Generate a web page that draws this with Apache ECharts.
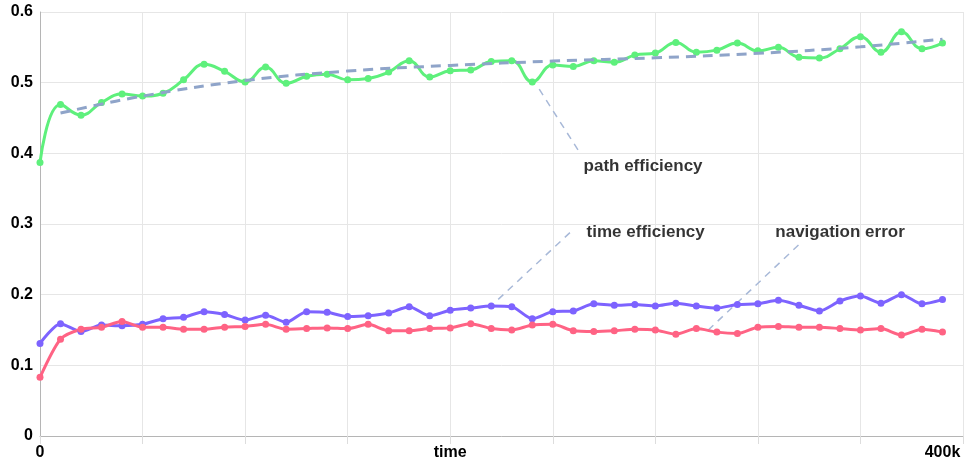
<!DOCTYPE html>
<html>
<head>
<meta charset="utf-8">
<script src="https://cdn.jsdelivr.net/npm/echarts@6/dist/echarts.min.js"></script>
<style>html,body{margin:0;padding:0;background:#fff}#c{width:966px;height:464px}</style>
</head>
<body>
<div id="c"></div>
<script>
// x categories (46 slots, labels only at a few)
const categories = Array.from({length: 46}, () => '');
categories[0] = '0';
categories[20] = 'time';
categories[44] = '400k';

const yTicks = [0, 0.1, 0.2, 0.3, 0.4, 0.5, 0.6];

const pathEfficiency = [0.387,0.469,0.454,0.472,0.484,0.481,0.485,0.504,0.526,0.516,
  0.501,0.522,0.499,0.509,0.512,0.504,0.506,0.515,0.531,0.508,
  0.517,0.518,0.530,0.531,0.501,0.525,0.523,0.531,0.529,0.539,
  0.542,0.557,0.543,0.546,0.556,0.545,0.550,0.536,0.535,0.548,
  0.565,0.543,0.572,0.548,0.556];

const timeEfficiency = [0.131,0.159,0.148,0.157,0.156,0.158,0.166,0.168,0.176,0.172,
  0.164,0.171,0.161,0.176,0.175,0.169,0.170,0.174,0.183,0.170,
  0.178,0.181,0.184,0.183,0.166,0.176,0.177,0.187,0.185,0.186,
  0.184,0.188,0.184,0.181,0.186,0.187,0.192,0.185,0.177,0.191,
  0.198,0.188,0.200,0.187,0.193];

const navigationError = [0.083,0.137,0.151,0.154,0.162,0.154,0.154,0.151,0.151,0.154,
  0.155,0.158,0.151,0.152,0.153,0.152,0.158,0.149,0.149,0.152,
  0.153,0.159,0.152,0.150,0.157,0.158,0.149,0.148,0.149,0.151,
  0.150,0.144,0.152,0.147,0.145,0.154,0.155,0.154,0.154,0.152,
  0.150,0.152,0.143,0.151,0.147];

// trend line of path efficiency (read at a few positions)
const trendIdx = [1, 5, 10, 15, 20, 25, 30, 35, 40, 44];
const trendVal = [0.457, 0.481, 0.503, 0.5165, 0.5244, 0.5305, 0.5352, 0.5415, 0.5507, 0.5616];

// annotations: label text, leader line start/end, label anchor (x in category units, y in data units)
const annoText = ['path efficiency', 'time efficiency', 'navigation error'];
const annoFrom = [[24.34, 0.4908], [22.34, 0.1933], [32.58, 0.1499]];
const annoTo   = [[26.23, 0.4048], [25.87, 0.2887], [37.05, 0.2722]];
const annoLabel = [[26.5, 0.3813], [26.65, 0.2887], [35.85, 0.2878]];

const trendData = pathEfficiency.map(() => null);
trendIdx.forEach((k, i) => { trendData[k] = trendVal[i]; });

const FONT = 'Arial, "Liberation Sans", sans-serif';
const chart = echarts.init(document.getElementById('c'), null, {renderer: 'canvas'});

function lineSeries(name, data, color, smooth) {
  return {
    name, type: 'line', data, smooth,
    symbol: 'circle', symbolSize: 7,
    itemStyle: {color},
    lineStyle: {color, width: 3},
    z: 3
  };
}

const series = [
  lineSeries('path efficiency', pathEfficiency, '#5ef07c', 0.45),
  lineSeries('time efficiency', timeEfficiency, '#7d63ff', 0.25),
  lineSeries('navigation error', navigationError, '#ff6384', 0.25),
  {
    name: 'trend', type: 'line', data: trendData, connectNulls: true, smooth: 0.4,
    symbol: 'none', lineStyle: {color: '#8fa4c9', width: 3, type: [10, 7]}, z: 4
  }
];

annoText.forEach((t, i) => {
  series.push({
    type: 'line', xAxisIndex: 1, symbol: 'none', silent: true,
    data: [annoFrom[i], annoTo[i]],
    lineStyle: {color: '#a8b9d8', width: 1.5, type: [7, 6]}, z: 2
  });
});
series.push({
  type: 'scatter', xAxisIndex: 1, symbolSize: 0, silent: true,
  data: annoText.map((t, i) => ({name: t, value: annoLabel[i]})),
  label: {show: true, formatter: '{b}', position: 'right', distance: 0,
    fontFamily: FONT, fontWeight: 'bold', fontSize: 17, color: '#000'},
  z: 5
});

chart.setOption({
  animation: false,
  grid: {left: 40, right: 3, top: 12, bottom: 28, containLabel: false},
  xAxis: [{
    type: 'category', data: categories, boundaryGap: false,
    axisLine: {show: true, lineStyle: {color: '#b5b5b5', width: 1}},
    axisTick: {show: true, interval: 4, length: 8, lineStyle: {color: '#dddddd'}},
    axisLabel: {interval: 0, fontFamily: FONT, fontWeight: 'bold', fontSize: 16, color: '#000', margin: 9},
    splitLine: {show: true, interval: 4, lineStyle: {color: '#e6e6e6'}}
  }, {
    type: 'value', min: 0, max: 45, show: false
  }],
  yAxis: {
    type: 'value', min: yTicks[0], max: yTicks[yTicks.length - 1], interval: 0.1,
    axisLine: {show: true, lineStyle: {color: '#b5b5b5', width: 1}},
    axisTick: {show: false},
    axisLabel: {fontFamily: FONT, fontWeight: 'bold', fontSize: 16, color: '#000', margin: 7,
      formatter: v => String(Math.round(v * 10) / 10)},
    splitLine: {show: true, lineStyle: {color: '#e6e6e6'}}
  },
  series
});
</script>
</body>
</html>
